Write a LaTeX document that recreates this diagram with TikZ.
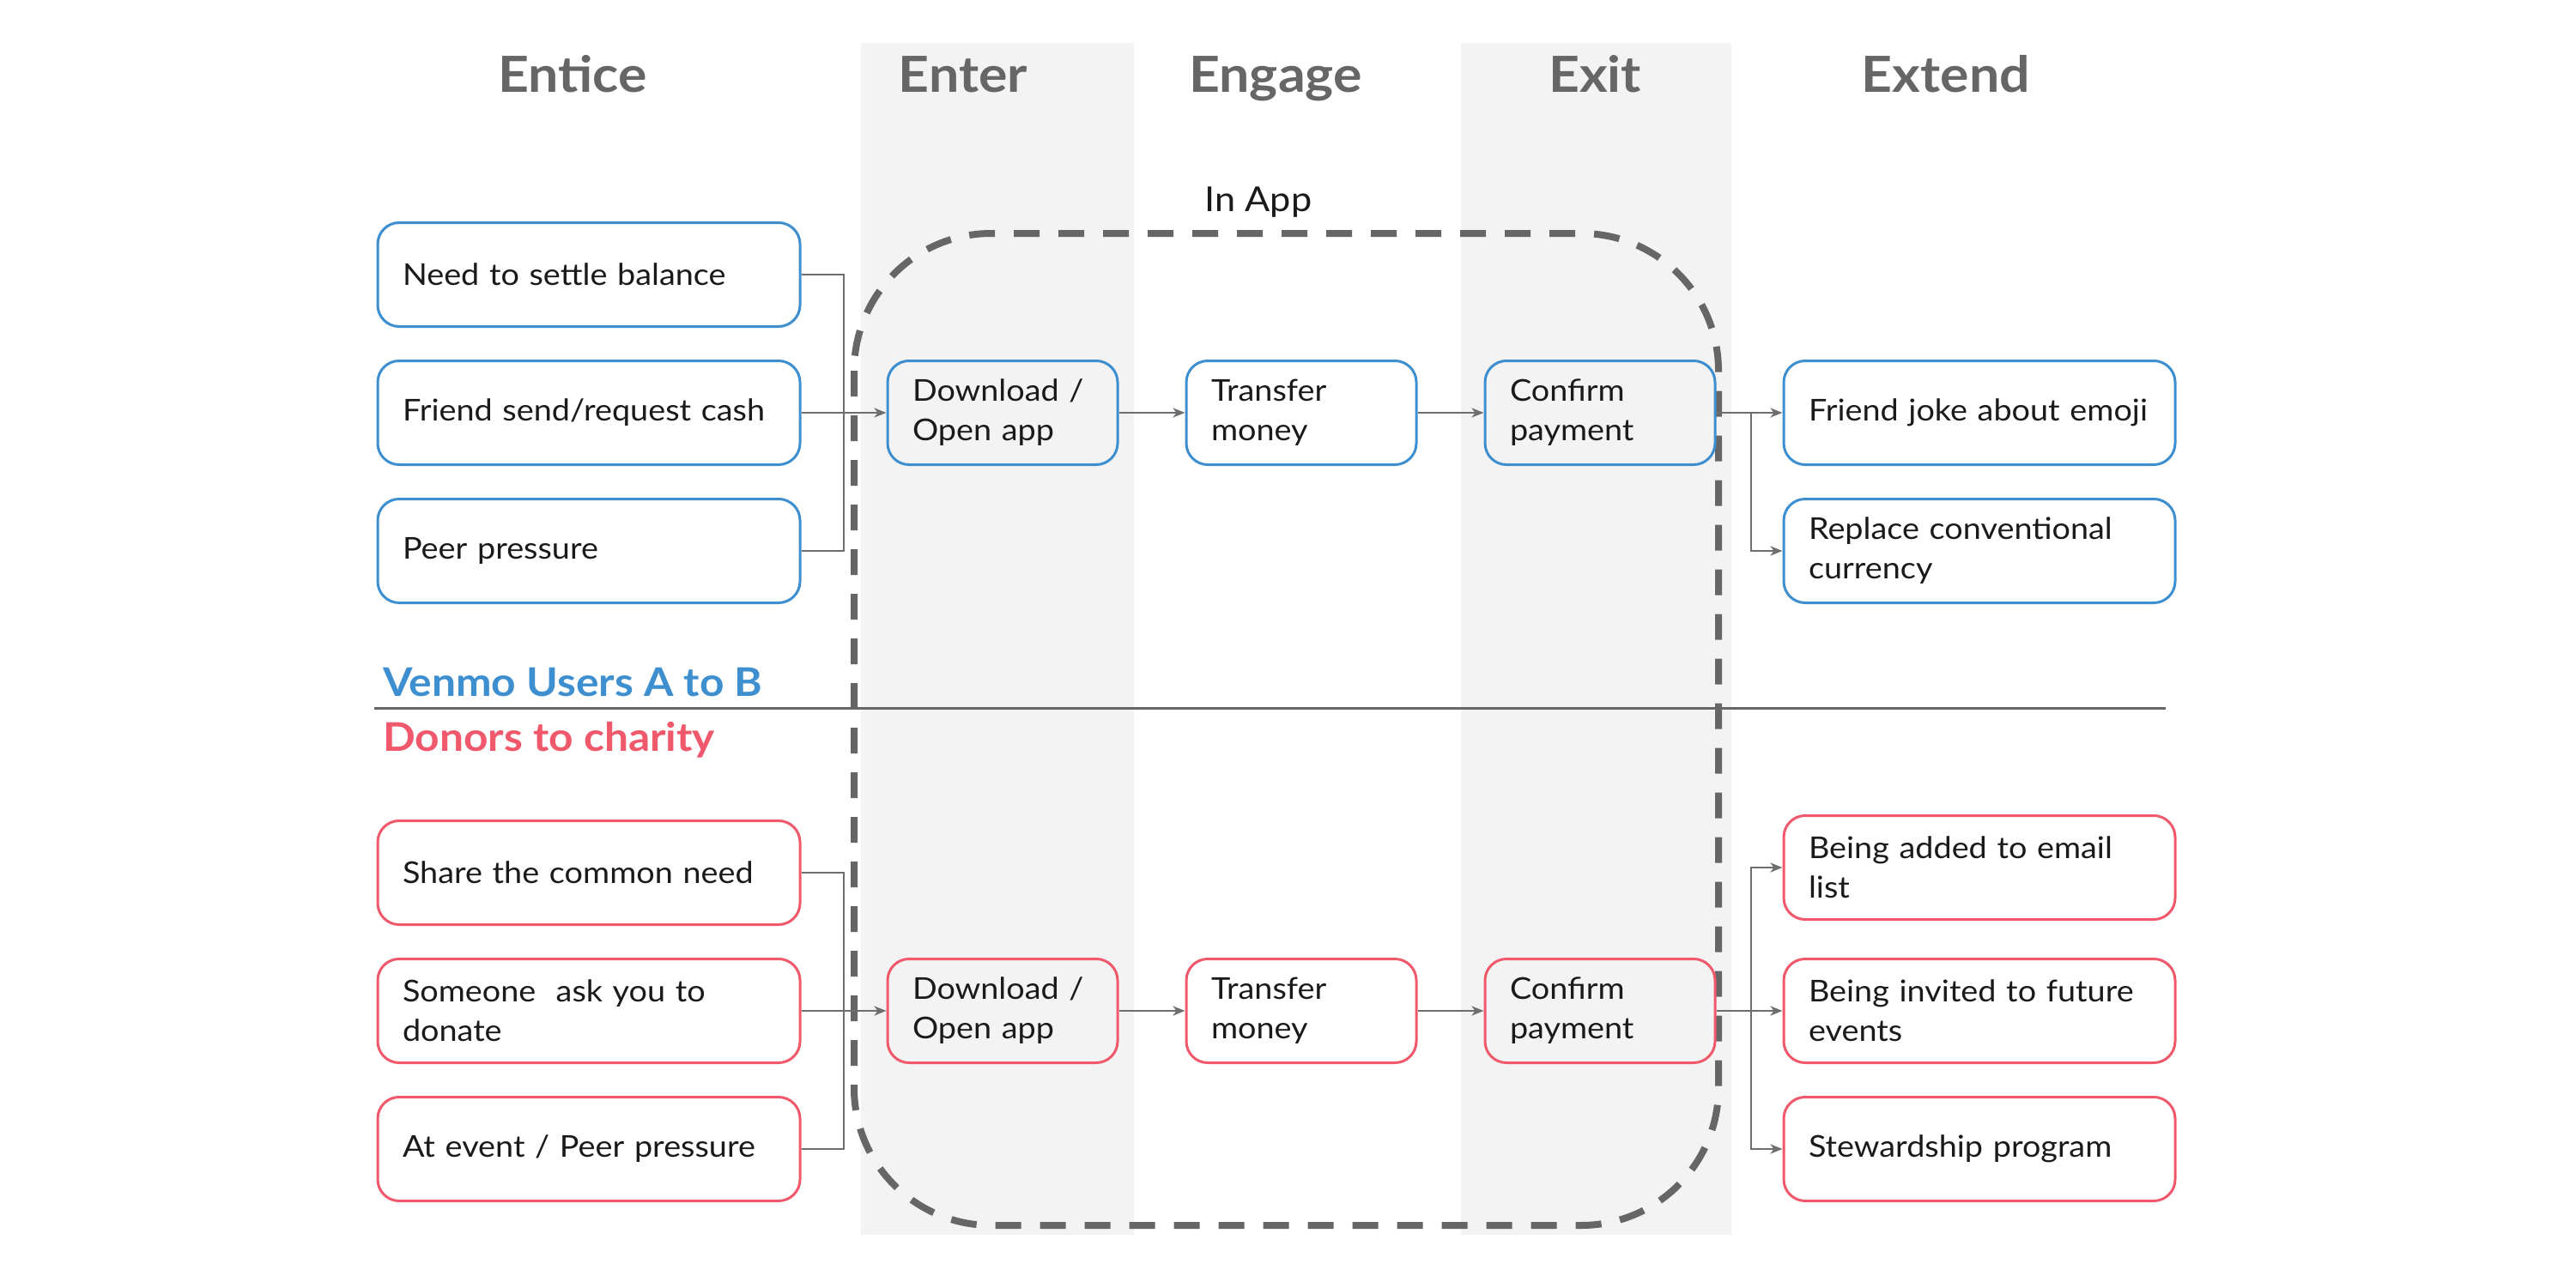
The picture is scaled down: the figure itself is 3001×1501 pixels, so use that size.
\documentclass[tikz,border=0pt]{standalone}
\usepackage{fontspec}
\setmainfont{Lato}[FakeStretch=1.08]
\usetikzlibrary{arrows.meta}
\definecolor{vblue}{HTML}{3D8FD0}
\definecolor{vred}{HTML}{F0596B}
\definecolor{hgray}{HTML}{666666}
\definecolor{cgray}{HTML}{6E6E6E}
\definecolor{band}{HTML}{F3F3F3}
\definecolor{bodytext}{HTML}{1A1A1A}
\newcommand{\bodyfont}{\fontsize{35}{46}\selectfont}
\tikzset{
  flowbox/.style={rectangle, draw=#1, line width=3pt, rounded corners=25pt,
    minimum height=121pt, inner xsep=29pt, inner ysep=0pt, align=left,
    font=\bodyfont, text=bodytext},
  leftbox/.style={flowbox=#1, minimum width=492pt, text width=434pt},
  midbox/.style={flowbox=#1, minimum width=268pt, text width=210pt},
  rightbox/.style={flowbox=#1, minimum width=456pt, text width=398pt},
  header/.style={font=\fontsize{58}{60}\selectfont\bfseries, text=hgray, anchor=base, inner sep=0pt},
  conn/.style={draw=cgray, line width=2.5pt},
  arr/.style={conn, -{Stealth[length=14pt, width=11pt, inset=4pt]}},
  grouplabel/.style={font=\fontsize{46}{48}\selectfont\bfseries, anchor=base west, inner sep=0pt}
}
\begin{document}
\begin{tikzpicture}[x=1pt, y=-1pt]
\useasboundingbox (0,0) rectangle (3001,1501);
\fill[white] (0,0) rectangle (3001,1501);
% bands
\fill[band] (1003,50) rectangle (1321,1439);
\fill[band] (1702,50) rectangle (2017,1439);
% headers
\node[header] (hEntice) at (667,108) {Entice};
\node[header] (hEnter) at (1122,108) {Enter};
\node[header] (hEngage) at (1486,108) {Engage};
\node[header] (hExit) at (1858,108) {Exit};
\node[header] (hExtend) at (2267,108) {Extend};
% in app
\node[font=\fontsize{40}{46}\selectfont, text=bodytext, anchor=base, inner sep=0pt] (inapp) at (1466,246) {In App};
\draw[draw=hgray, line width=8pt, dash pattern=on 30pt off 22pt, rounded corners=160pt]
  (995,272) rectangle (2002,1428);
% separator
\draw[draw=hgray, line width=3pt] (436,825) -- (2523,825);
\node[grouplabel, text=vblue] (lblA) at (446,811) {Venmo Users A to B};
\node[grouplabel, text=vred] (lblB) at (446,875) {Donors to charity};
% top row
\node[leftbox=vblue] (a1) at (686,320) {Need to settle balance};
\node[leftbox=vblue] (a2) at (686,481) {Friend send/request cash};
\node[leftbox=vblue] (a3) at (686,642) {Peer pressure};
\node[midbox=vblue] (d1) at (1168,481) {Download /\\Open app};
\node[midbox=vblue] (t1) at (1516,481) {Transfer\\money};
\node[midbox=vblue] (c1) at (1864,481) {Confirm\\payment};
\node[rightbox=vblue] (r1) at (2306,481) {Friend joke about emoji};
\node[rightbox=vblue] (r2) at (2306,642) {Replace conventional\\currency};
% bottom row
\node[leftbox=vred] (b1) at (686,1017) {Share the common need};
\node[leftbox=vred] (b2) at (686,1178) {Someone\ \ ask you to\\donate};
\node[leftbox=vred] (b3) at (686,1339) {At event / Peer pressure};
\node[midbox=vred] (d2) at (1168,1178) {Download /\\Open app};
\node[midbox=vred] (t2) at (1516,1178) {Transfer\\money};
\node[midbox=vred] (c2) at (1864,1178) {Confirm\\payment};
\node[rightbox=vred] (r4) at (2306,1011) {Being added to email\\list};
\node[rightbox=vred] (r5) at (2306,1178) {Being invited to future\\events};
\node[rightbox=vred] (r6) at (2306,1339) {Stewardship program};
% junctions
\coordinate (j1) at (983,481);
\coordinate (j2) at (2040,481);
\coordinate (j3) at (983,1178);
\coordinate (j4) at (2040,1178);
% connectors top
\draw[conn] (a1.east) -| (j1);
\draw[conn] (a3.east) -| (j1);
\draw[arr] (a2.east) -- (d1.west);
\draw[arr] (d1.east) -- (t1.west);
\draw[arr] (t1.east) -- (c1.west);
\draw[arr] (c1.east) -- (r1.west);
\draw[arr] (j2) |- (r2.west);
% connectors bottom
\draw[conn] (b1.east) -| (j3);
\draw[conn] (b3.east) -| (j3);
\draw[arr] (b2.east) -- (d2.west);
\draw[arr] (d2.east) -- (t2.west);
\draw[arr] (t2.east) -- (c2.west);
\draw[arr] (c2.east) -- (r5.west);
\draw[arr] (j4) |- (r4.west);
\draw[arr] (j4) |- (r6.west);
\end{tikzpicture}
\end{document}
